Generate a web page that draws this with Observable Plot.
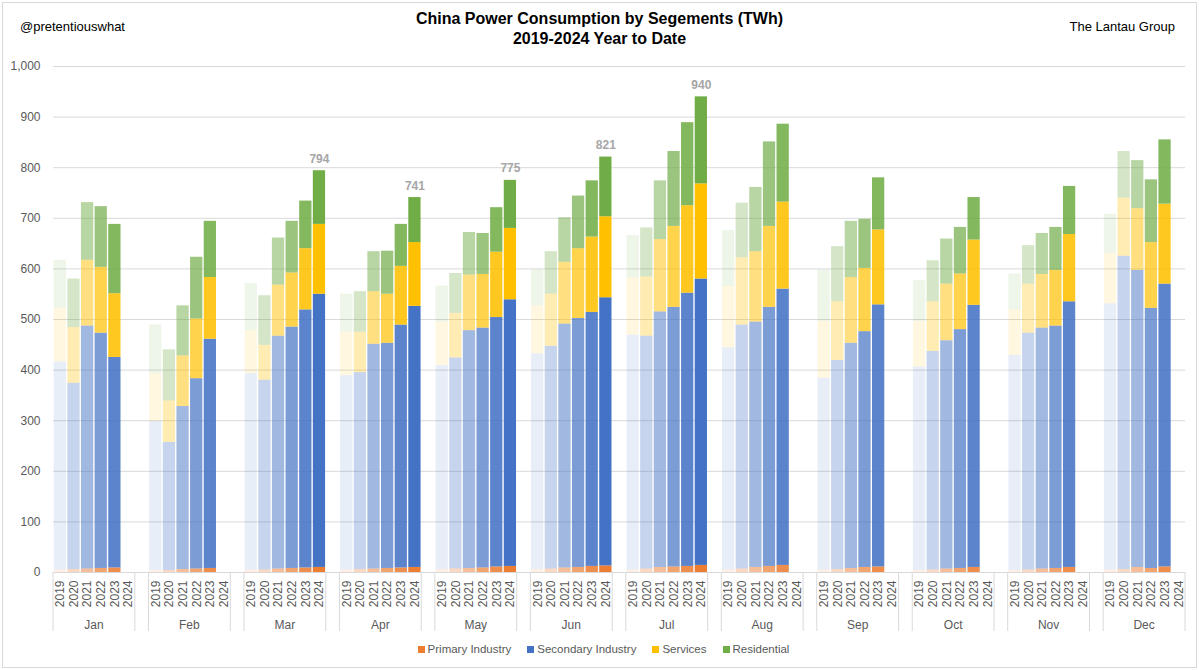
<!DOCTYPE html>
<html><head><meta charset="utf-8">
<script src="https://cdn.jsdelivr.net/npm/d3@7"></script>
<script src="https://cdn.jsdelivr.net/npm/@observablehq/plot@0.6"></script>
<style>
body{margin:0;background:#fff;font-family:"Liberation Sans",Arial,sans-serif;}
#wrap{position:relative;width:1199px;height:670px;overflow:hidden;background:#fff;}
#border{position:absolute;left:2px;top:2px;width:1195px;height:666px;border:1px solid #d9d9d9;box-sizing:border-box;}
#title{position:absolute;left:0;width:1199px;top:9px;text-align:center;font-weight:bold;font-size:16px;line-height:20px;color:#000;}
#left{position:absolute;left:20px;top:19px;font-size:13px;color:#000;}
#right{position:absolute;right:24px;top:19px;font-size:13px;color:#000;}
#chart{position:absolute;left:0;top:55px;}
#legend{position:absolute;left:4px;width:1199px;top:643px;display:flex;justify-content:center;font-size:11.5px;color:#595959;}
#legend .item{display:flex;align-items:center;margin:0 8px;}
#legend .sw{width:7px;height:7px;margin-right:3px;}
</style></head>
<body>
<div id="wrap">
  <div id="border"></div>
  <div id="title">China Power Consumption by Segements (TWh)<br>2019-2024 Year to Date</div>
  <div id="left">@pretentiouswhat</div>
  <div id="right">The Lantau Group</div>
  <div id="chart"></div>
  <div id="legend"></div>
</div>
<script>
const months = ["Jan","Feb","Mar","Apr","May","Jun","Jul","Aug","Sep","Oct","Nov","Dec"];
const years = ["2019","2020","2021","2022","2023","2024"];
const segments = ["Primary Industry","Secondary Industry","Services","Residential"];
const yTicks = [0,100,200,300,400,500,600,700,800,900,1000];

// rows = years (2019..2024), columns = months (Jan..Dec), TWh
const primary = [
  [5,4,5,5,6,6,5,5,5,4,4,5],
  [6,4,5,6,7,7,7,7,6,5,5,6],
  [7,6,7,7,8,9,10,10,8,7,7,10],
  [8,7,8,8,9,10,11,12,10,8,8,8],
  [9,8,9,9,11,12,12,14,11,10,10,11],
  [null,null,10,10,12,13,14,null,null,null,null,null]
];
const secondary = [
  [411,295,388,384,403,426,464,439,379,402,425,526],
  [368,253,375,389,417,440,460,482,413,432,468,619],
  [480,322,460,444,470,482,505,485,445,451,476,587],
  [465,376,477,445,474,492,513,512,466,472,479,514],
  [416,453,510,480,493,502,540,546,518,518,525,559],
  [null,null,540,516,527,530,566,null,null,null,null,null]
];
const services = [
  [106,93,85,86,86,95,113,121,112,90,90,100],
  [110,82,69,80,88,103,117,133,116,98,97,115],
  [130,100,101,104,110,122,143,139,130,112,106,122],
  [130,118,107,97,106,138,160,160,125,110,110,130],
  [126,122,121,116,129,149,173,172,148,129,133,158],
  [null,null,138,126,141,160,188,null,null,null,null,null]
];
const residential = [
  [95,97,93,75,71,71,84,111,102,81,71,77],
  [96,101,98,80,79,84,97,108,109,81,76,92],
  [114,99,93,79,84,88,116,127,111,89,81,95],
  [120,122,102,85,81,104,148,167,97,92,85,124],
  [137,111,94,83,88,111,164,154,103,84,95,127],
  [null,null,106,89,95,118,172,null,null,null,null,null]
];
const labelledYear = "2024";

// styles
const colors = ["#ED7D31","#4472C4","#FFC000","#70AD47"];
const yearOpacity = {"2019":0.12,"2020":0.3,"2021":0.5,"2022":0.7,"2023":0.87,"2024":1};

const seriesBySegment = [primary, secondary, services, residential];
const rows = [];
months.forEach((m, mi) => {
  years.forEach((y, yi) => {
    segments.forEach((s, si) => {
      const v = seriesBySegment[si][yi][mi];
      if (v != null) rows.push({key: m + " " + y, month: m, year: y, segment: s, value: v});
    });
  });
});
const totals = d3.rollups(rows.filter(d => d.year === labelledYear), v => d3.sum(v, d => d.value), d => d.key)
  .map(([key, total]) => ({key, total}));

const domain = [];
months.forEach((m, i) => {
  years.forEach(y => domain.push(m + " " + y));
  if (i < months.length - 1) domain.push(m + " gap");
});
const realKeys = domain.filter(k => !k.endsWith("gap"));

const plot = Plot.plot({
  width: 1199, height: 590,
  marginLeft: 53, marginRight: 14, marginTop: 11, marginBottom: 73,
  style: {fontFamily: "Liberation Sans, Arial, sans-serif", fontSize: "12px", color: "#595959", background: "transparent"},
  x: {type: "band", domain, paddingInner: 0.1, paddingOuter: 0.05},
  y: {domain: [0, 1000]},
  color: {domain: segments, range: colors},
  opacity: {type: "identity"},
  marks: [
    Plot.gridY(yTicks, {stroke: "#d9d9d9", strokeOpacity: 1}),
    Plot.axisY(yTicks, {tickSize: 0, tickPadding: 13, tickFormat: d3.format(","), fill: "#595959", fontSize: 12, label: null}),
    Plot.barY(rows, {x: "key", y: "value", fill: "segment", fillOpacity: d => yearOpacity[d.year]}),
    Plot.axisX(realKeys, {tickRotate: -90, tickSize: 0, tickPadding: 8, tickFormat: k => k.split(" ")[1], fill: "#595959", fontSize: 12, label: null}),
    Plot.text(totals, {x: "key", y: "total", text: d => String(d.total), dy: -8, lineAnchor: "bottom", fill: "#a6a6a6", fontWeight: "bold", fontSize: 12})
  ]
});

// month separators and month labels from the x scale
const sx = plot.scale("x"), sy = plot.scale("y");
const base = sy.apply(0);
const half = (sx.step - sx.bandwidth) / 2;
const g = d3.select(plot).append("g").attr("class", "month-axis");
months.forEach(m => {
  const left = sx.apply(m + " " + years[0]) - half;
  const right = sx.apply(m + " " + years[years.length - 1]) + sx.bandwidth + half;
  [left, right].forEach(x => g.append("line").attr("x1", x).attr("x2", x).attr("y1", base).attr("y2", base + 59)
    .attr("stroke", "#d9d9d9"));
  g.append("text").attr("x", (left + right) / 2).attr("y", base + 57).attr("text-anchor", "middle")
    .attr("fill", "#595959").attr("font-size", 12).text(m);
});
document.getElementById("chart").appendChild(plot);

// legend
const lg = d3.select("#legend");
segments.forEach((s, i) => {
  const it = lg.append("div").attr("class", "item");
  it.append("div").attr("class", "sw").style("background", colors[i]);
  it.append("span").text(s);
});
</script>
</body></html>
